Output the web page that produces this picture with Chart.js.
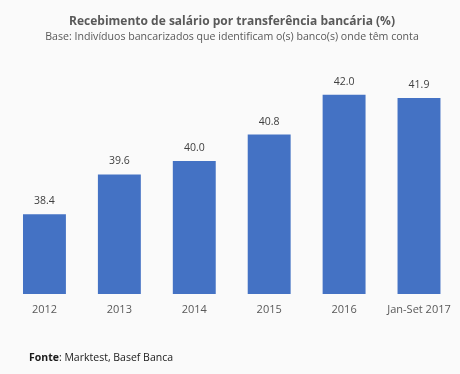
<!DOCTYPE html>
<html>
<head>
<meta charset="utf-8">
<script src="https://cdn.jsdelivr.net/npm/chart.js"></script>
<style>
  body { margin: 0; background: #fafafa; }
  #wrap { position: relative; width: 460px; height: 374px; }
  #fonte {
    position: absolute; left: 29px; top: 350px;
    font: 10.5px "Open Sans", sans-serif; color: #1a1a1a;
  }
</style>
</head>
<body>
<div id="wrap">
  <canvas id="bar-chart" width="460" height="374"></canvas>
  <div id="fonte"><b>Fonte</b>: Marktest, Basef Banca</div>
</div>
<script>
const categories = ['2012', '2013', '2014', '2015', '2016', 'Jan-Set 2017'];
const values = [38.4, 39.6, 40.0, 40.8, 42.0, 41.9];

const fontFamily = '"Open Sans", sans-serif';

// value labels above each bar
const barLabels = {
  id: 'barLabels',
  afterDatasetsDraw(chart) {
    const ctx = chart.ctx;
    ctx.save();
    ctx.font = '10.5px ' + fontFamily;
    ctx.fillStyle = '#404040';
    ctx.textAlign = 'center';
    ctx.textBaseline = 'middle';
    chart.getDatasetMeta(0).data.forEach((bar, i) => {
      ctx.fillText(values[i].toFixed(1), bar.x, bar.y - 13);
    });
    ctx.restore();
  }
};

new Chart(document.getElementById('bar-chart'), {
  type: 'bar',
  data: {
    labels: categories,
    datasets: [{
      data: values,
      backgroundColor: '#4472C4',
      barPercentage: 0.573,
      categoryPercentage: 1
    }]
  },
  options: {
    responsive: false,
    animation: false,
    layout: { padding: { left: 7, right: 3, top: 0, bottom: 50 } },
    plugins: {
      legend: { display: false },
      tooltip: { enabled: false },
      title: {
        display: true,
        text: 'Recebimento de salário por transferência bancária (%)',
        color: '#595959',
        font: { family: fontFamily, size: 12, weight: 'bold' },
        padding: { top: 14.8, bottom: 0 }
      },
      subtitle: {
        display: true,
        text: 'Base: Indivíduos bancarizados que identificam o(s) banco(s) onde têm conta',
        color: '#595959',
        font: { family: fontFamily, size: 10.6 },
        padding: { top: 1.5, bottom: 18 }
      }
    },
    scales: {
      x: {
        grid: { display: false, drawTicks: false },
        border: { display: false },
        ticks: {
          color: '#595959',
          font: { family: fontFamily, size: 11 },
          padding: 9,
          maxRotation: 0,
          minRotation: 0,
          autoSkip: false
        },
        afterFit: (s) => { s.height = 30; }
      },
      y: {
        display: false,
        min: 36,
        max: 43
      }
    }
  },
  plugins: [barLabels]
});
</script>
</body>
</html>
